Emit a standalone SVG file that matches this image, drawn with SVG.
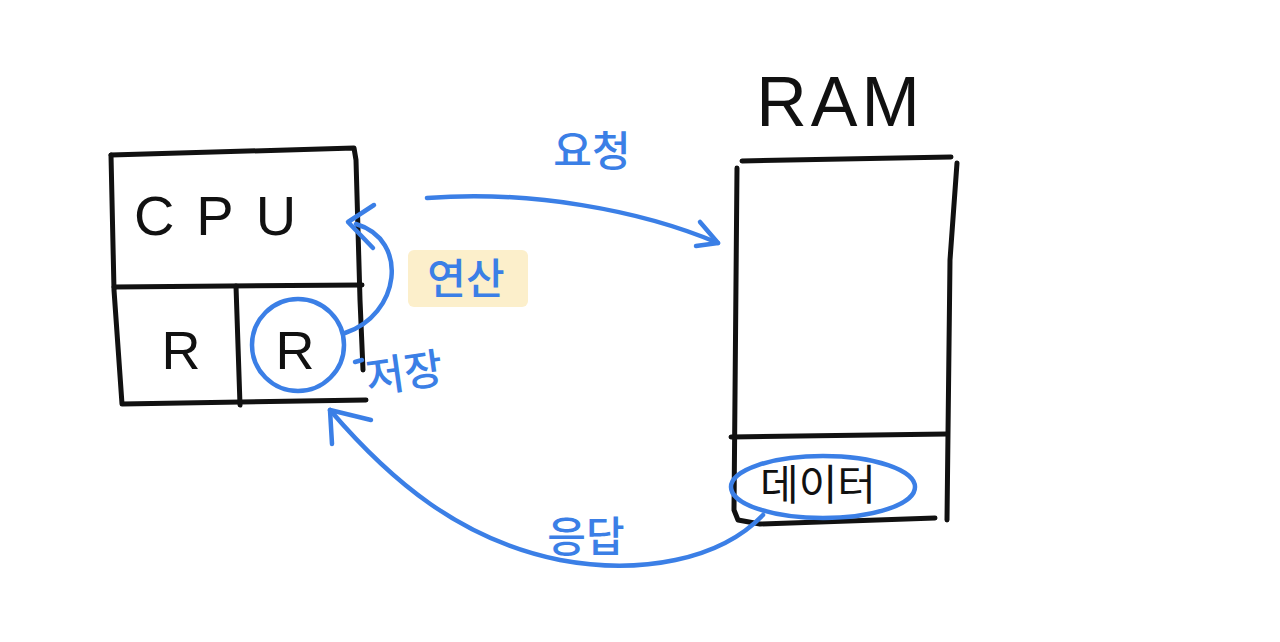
<svg xmlns="http://www.w3.org/2000/svg" width="1280" height="642" viewBox="0 0 1280 642">
<style>
.ink{fill:none;stroke:#111;stroke-width:5;stroke-linecap:round;stroke-linejoin:round}
.blue{fill:none;stroke:#3b7fe6;stroke-width:4.5;stroke-linecap:round;stroke-linejoin:round}
.bt{font-family:"Noto Sans CJK KR","Noto Sans",sans-serif;fill:#3b7fe6;font-size:42px;font-weight:500}
.kt{font-family:"Liberation Sans","Noto Sans CJK KR",sans-serif;fill:#111}
</style>
<rect width="1280" height="642" fill="#fff"/>
<g id="cpu">
<path class="ink" d="M111,155 L354,148 L356,160 L360,300 L363,370"/>
<path class="ink" d="M111,155 L114,290 L122,404 L366,400"/>
<path class="ink" d="M114,287 L362,285"/>
<path class="ink" d="M236,286 L240,405"/>
<text class="kt" x="226" y="235" font-size="56" text-anchor="middle" letter-spacing="22">CPU</text>
<text class="kt" x="181" y="369" font-size="54" text-anchor="middle">R</text>
<text class="kt" x="295" y="369" font-size="54" text-anchor="middle">R</text>
</g>
<g id="ram">
<text class="kt" x="840" y="126" font-size="70" text-anchor="middle" letter-spacing="4">RAM</text>
<path class="ink" d="M742,161 L951,157"/>
<path class="ink" d="M737,168 L734,510 L738,520 L760,524 L935,518"/>
<path class="ink" d="M957,163 L950,260 L947,520"/>
<path class="ink" d="M731,437 L947,434"/>
<text x="818" y="500" font-size="42" text-anchor="middle" fill="#111" font-family="Noto Sans CJK KR, sans-serif">데이터</text>
</g>
<g id="connectors">
<ellipse class="blue" cx="298" cy="345" rx="46" ry="46"/>
<ellipse class="blue" cx="823" cy="487" rx="92" ry="31"/>
<path class="blue" d="M345,333 C400,315 410,240 356,224"/>
<path class="blue" d="M374,205 L348,222 L373,248"/>
<path class="blue" d="M427,198 C530,190 640,210 718,243"/>
<path class="blue" d="M700,222 L718,243 L696,246"/>
<path class="blue" d="M763,515 C720,560 640,575 560,560 C460,540 390,480 330,410"/>
<path class="blue" d="M332,444 L330,410 L371,420"/>
<path class="blue" d="M355,362 L362,360"/>
</g>
<g id="labels">
<rect x="408" y="250" width="120" height="57" fill="#fcefcb" rx="6"/>
<text class="bt" x="466" y="294" text-anchor="middle">연산</text>
<text class="bt" x="404" y="388" text-anchor="middle" transform="rotate(-8 404 372)">저장</text>
<text class="bt" x="592" y="166" text-anchor="middle">요청</text>
<text class="bt" x="586" y="552" text-anchor="middle">응답</text>
</g>
</svg>
